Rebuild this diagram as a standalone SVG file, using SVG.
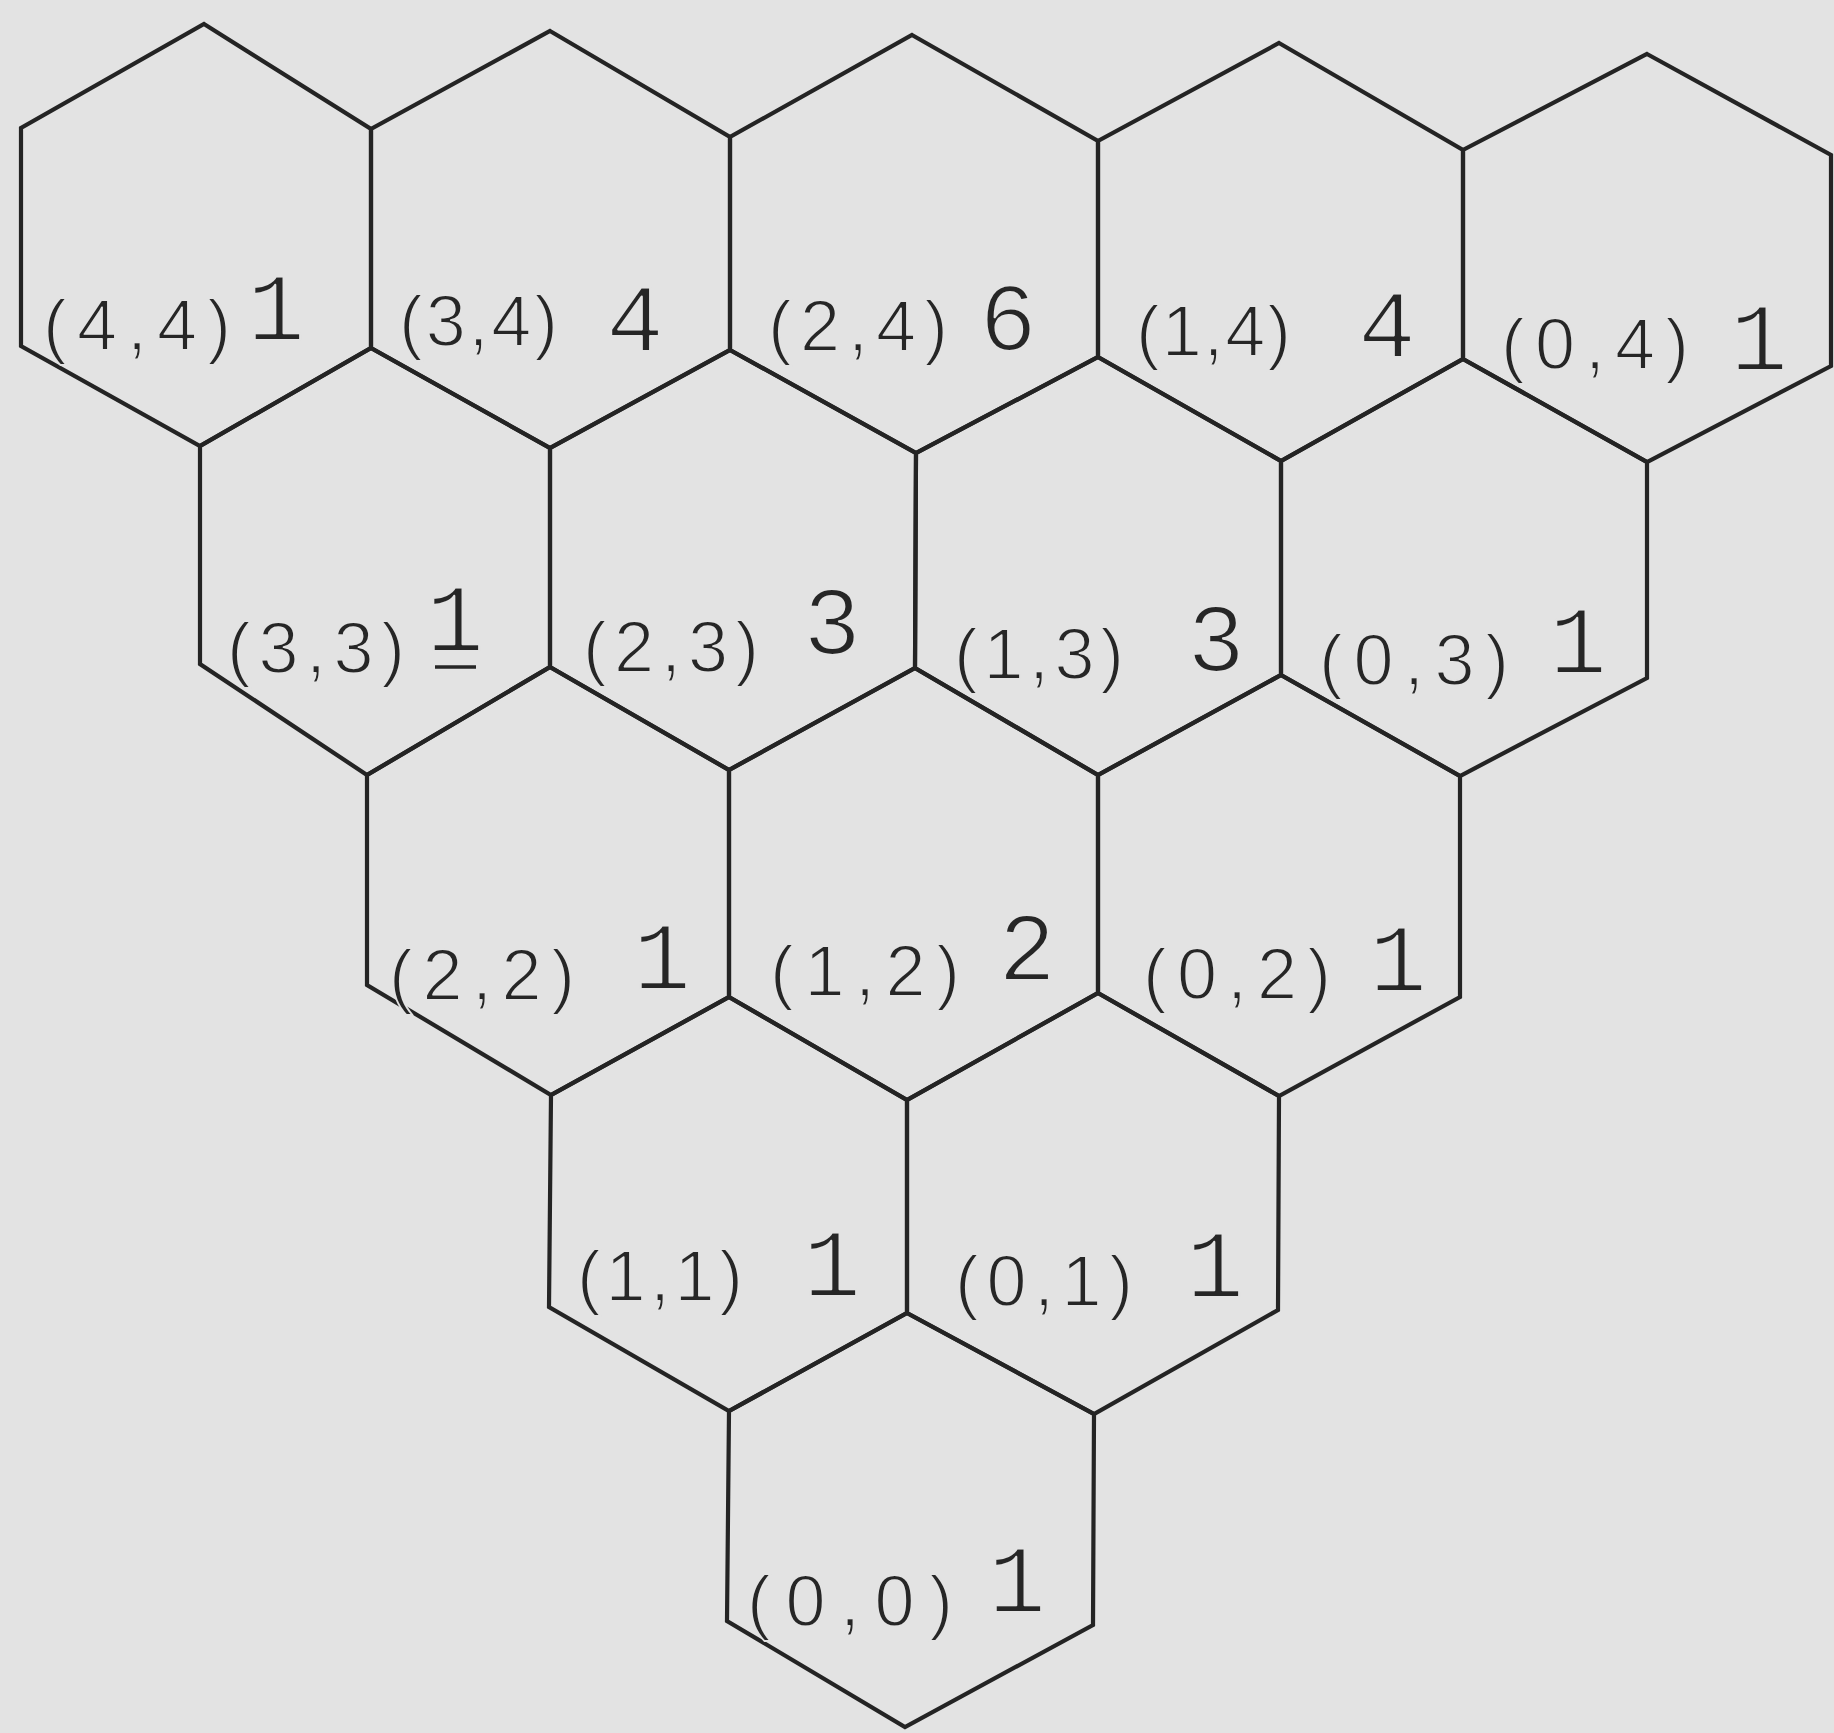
<svg xmlns="http://www.w3.org/2000/svg" width="1834" height="1733" viewBox="0 0 1834 1733">
<style>
.hex{fill:none;stroke:#242424;stroke-width:4.2;stroke-linejoin:miter}
.coord{font-family:"Liberation Sans","DejaVu Sans",sans-serif;font-size:72px;fill:#262626;stroke:#e3e3e3;stroke-width:1.8;stroke-linejoin:round}
.val{font-family:"Liberation Mono","DejaVu Sans Mono",monospace;font-size:96px;fill:#262626;text-anchor:middle;stroke:#e3e3e3;stroke-width:2.2;stroke-linejoin:round}
.ul{stroke:#262626;stroke-width:3.5}
</style>
<rect width="1834" height="1733" fill="#e3e3e3"/>
<g id="connectors"></g>
<g id="hex-4-4"><polygon class="hex" points="204,24 371,129 371,348 200,446 21,346 21,128"/><text class="coord" x="43" y="350" textLength="188" lengthAdjust="spacing">(4,4)</text><text class="val" x="276" y="340">1</text></g>
<g id="hex-3-4"><polygon class="hex" points="550,31 730,137 730,350 550,448 371,348 371,129"/><text class="coord" x="399" y="346" textLength="159" lengthAdjust="spacing">(3,4)</text><text class="val" x="635" y="351">4</text></g>
<g id="hex-2-4"><polygon class="hex" points="912,35 1098,141 1098,357 916,453 730,350 730,137"/><text class="coord" x="768" y="351" textLength="180" lengthAdjust="spacing">(2,4)</text><text class="val" x="1008" y="350">6</text></g>
<g id="hex-1-4"><polygon class="hex" points="1279,43 1463,150 1463,359 1281,461 1098,357 1098,141"/><text class="coord" x="1136" y="356" textLength="155" lengthAdjust="spacing">(1,4)</text><text class="val" x="1387" y="357">4</text></g>
<g id="hex-0-4"><polygon class="hex" points="1647,54 1831,155 1831,366 1647,462 1463,359 1463,150"/><text class="coord" x="1501" y="369" textLength="188" lengthAdjust="spacing">(0,4)</text><text class="val" x="1759" y="370">1</text></g>
<g id="hex-3-3"><polygon class="hex" points="371,348 550,448 550,667 367,775 200,664 200,446"/><text class="coord" x="227" y="673" textLength="178" lengthAdjust="spacing">(3,3)</text><text class="val" x="455" y="651">1</text><line class="ul" x1="435" y1="667" x2="476" y2="667"/></g>
<g id="hex-2-3"><polygon class="hex" points="730,350 916,453 915,668 729,770 550,667 550,448"/><text class="coord" x="583" y="672" textLength="176" lengthAdjust="spacing">(2,3)</text><text class="val" x="832" y="654">3</text></g>
<g id="hex-1-3"><polygon class="hex" points="1098,357 1281,461 1281,675 1098,775 915,668 916,453"/><text class="coord" x="954" y="679" textLength="170" lengthAdjust="spacing">(1,3)</text><text class="val" x="1216" y="671">3</text></g>
<g id="hex-0-3"><polygon class="hex" points="1463,359 1647,462 1647,678 1460,776 1281,675 1281,461"/><text class="coord" x="1319" y="685" textLength="190" lengthAdjust="spacing">(0,3)</text><text class="val" x="1578" y="673">1</text></g>
<g id="hex-2-2"><polygon class="hex" points="550,667 729,770 729,997 551,1095 367,985 367,775"/><text class="coord" x="389" y="1000" textLength="186" lengthAdjust="spacing">(2,2)</text><text class="val" x="662" y="989">1</text></g>
<g id="hex-1-2"><polygon class="hex" points="915,668 1098,775 1098,993 907,1100 729,997 729,770"/><text class="coord" x="770" y="996" textLength="190" lengthAdjust="spacing">(1,2)</text><text class="val" x="1027" y="980">2</text></g>
<g id="hex-0-2"><polygon class="hex" points="1281,675 1460,776 1460,997 1279,1096 1098,993 1098,775"/><text class="coord" x="1143" y="999" textLength="188" lengthAdjust="spacing">(0,2)</text><text class="val" x="1398" y="991">1</text></g>
<g id="hex-1-1"><polygon class="hex" points="729,997 907,1100 907,1313 729,1411 549,1307 551,1095"/><text class="coord" x="577" y="1301" textLength="166" lengthAdjust="spacing">(1,1)</text><text class="val" x="832" y="1296">1</text></g>
<g id="hex-0-1"><polygon class="hex" points="1098,993 1279,1096 1278,1310 1094,1414 907,1313 907,1100"/><text class="coord" x="955" y="1306" textLength="178" lengthAdjust="spacing">(0,1)</text><text class="val" x="1215" y="1297">1</text></g>
<g id="hex-0-0"><polygon class="hex" points="907,1313 1094,1414 1093,1625 905,1727 727,1621 729,1411"/><text class="coord" x="747" y="1626" textLength="206" lengthAdjust="spacing">(0,0)</text><text class="val" x="1017" y="1612">1</text></g>
</svg>
